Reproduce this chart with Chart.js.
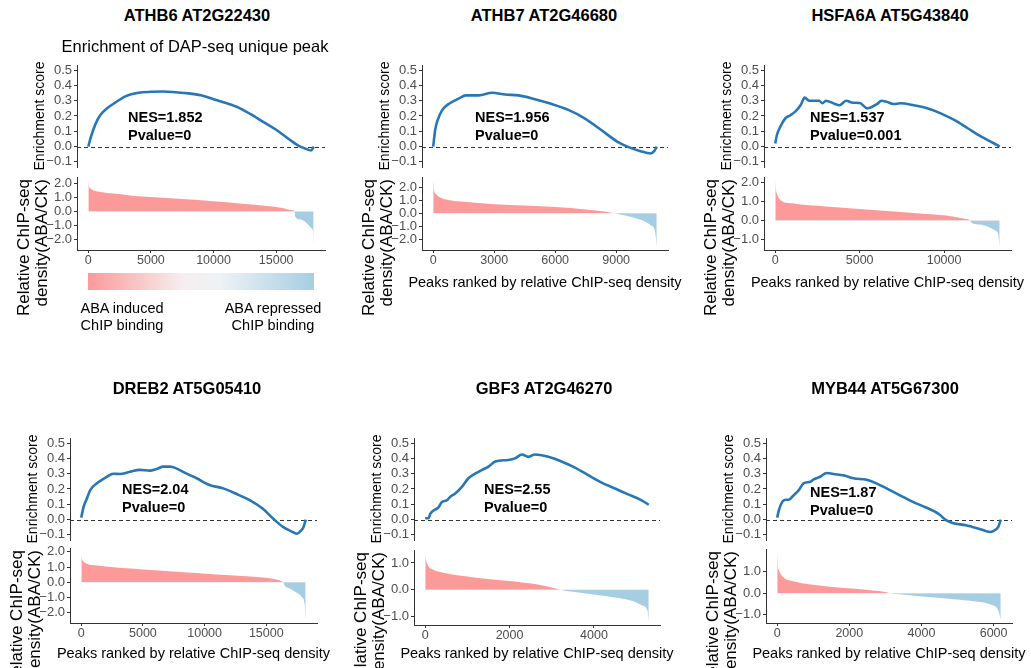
<!DOCTYPE html>
<html>
<head>
<meta charset="utf-8">
<script src="https://cdn.jsdelivr.net/npm/chart.js@4.4.0/dist/chart.umd.min.js"></script>
<style>
  html, body { margin: 0; padding: 0; background: #fff; }
  body { width: 1031px; height: 668px; position: relative; overflow: hidden;
         font-family: "Liberation Sans", Arial, sans-serif; }
  canvas { position: absolute; }
  .txt { position: absolute; white-space: nowrap; color: #000; }
  .rot { position: absolute; white-space: nowrap; color: #000; transform: rotate(-90deg); }
</style>
</head>
<body>
<script>
  // ---- data ----
  const geneNames = ['ATHB6 AT2G22430', 'ATHB7 AT2G46680', 'HSFA6A AT5G43840',
                     'DREB2 AT5G05410', 'GBF3 AT2G46270', 'MYB44 AT5G67300'];
  const nesValues = ['1.852', '1.956', '1.537', '2.04', '2.55', '1.87'];
  const pValues = ['0', '0', '0.001', '0', '0', '0'];

  const esTicks = [-0.1, 0, 0.1, 0.2, 0.3, 0.4, 0.5];
  const xTicks1 = [0, 5000, 10000, 15000];
  const xTicks2 = [0, 3000, 6000, 9000];
  const xTicks3 = [0, 5000, 10000];
  const xTicks4 = [0, 5000, 10000, 15000];
  const xTicks5 = [0, 2000, 4000];
  const xTicks6 = [0, 2000, 4000, 6000];
  const densTicks1 = [-2, -1, 0, 1, 2];
  const densTicks2 = [-2, -1, 0, 1, 2];
  const densTicks3 = [-1, 0, 1, 2];
  const densTicks4 = [-2, -1, 0, 1, 2];
  const densTicks5 = [-1, 0, 1];
  const densTicks6 = [-1, 0, 1];

  // running enrichment score
  const esRank1 = [0, 200, 400, 700, 1000, 1500, 2200, 3000, 4000, 5000, 6000, 7000, 8000, 9000, 10000, 11000, 12000, 13000, 14000, 15000, 16000, 16800, 17300, 17800, 18000];
  const esScore1 = [0, 0.06, 0.11, 0.17, 0.21, 0.25, 0.29, 0.33, 0.352, 0.358, 0.36, 0.355, 0.348, 0.335, 0.31, 0.285, 0.255, 0.21, 0.16, 0.11, 0.05, 0.005, -0.012, -0.025, 0];
  const esRank2 = [0, 100, 210, 450, 780, 1270, 1600, 2250, 2900, 3550, 4200, 5000, 5800, 6650, 7450, 8250, 9050, 9550, 10200, 10700, 10870, 11000];
  const esScore2 = [0, 0.11, 0.17, 0.24, 0.28, 0.315, 0.335, 0.335, 0.352, 0.34, 0.335, 0.31, 0.28, 0.24, 0.185, 0.11, 0.033, 0, -0.03, -0.045, -0.03, 0];
  const esRank3 = [0, 100, 300, 600, 900, 1200, 1500, 1750, 2000, 2600, 2800, 3000, 3500, 3800, 4200, 4600, 5000, 5450, 6000, 6300, 6600, 7000, 7400, 8200, 9000, 9800, 10600, 11400, 12200, 12950, 13300];
  const esScore3 = [0.02, 0.076, 0.13, 0.185, 0.205, 0.23, 0.27, 0.32, 0.3, 0.3, 0.283, 0.3, 0.28, 0.27, 0.3, 0.287, 0.285, 0.25, 0.276, 0.3, 0.293, 0.278, 0.283, 0.27, 0.25, 0.217, 0.174, 0.12, 0.065, 0.022, 0];
  const esRank4 = [0, 190, 460, 730, 1270, 2070, 2600, 3150, 3950, 4750, 5550, 6100, 6650, 7200, 7700, 8550, 9350, 10400, 11500, 12600, 13650, 14700, 15550, 16350, 17150, 17500, 17830, 18020, 18200];
  const esScore4 = [0.013, 0.083, 0.138, 0.193, 0.237, 0.28, 0.3, 0.298, 0.313, 0.325, 0.32, 0.33, 0.346, 0.346, 0.335, 0.3, 0.27, 0.226, 0.204, 0.167, 0.127, 0.072, 0.007, -0.048, -0.081, -0.092, -0.07, -0.048, 0];
  const esRank5 = [0, 80, 120, 200, 315, 395, 510, 590, 710, 870, 1025, 1185, 1340, 1500, 1660, 1970, 2130, 2290, 2445, 2600, 2760, 2920, 3230, 3550, 3865, 4180, 4500, 4810, 5130, 5300];
  const esScore5 = [0.009, 0.009, 0.037, 0.06, 0.08, 0.115, 0.125, 0.148, 0.17, 0.214, 0.27, 0.3, 0.324, 0.346, 0.38, 0.39, 0.4, 0.425, 0.41, 0.425, 0.42, 0.41, 0.38, 0.34, 0.29, 0.242, 0.203, 0.165, 0.126, 0.097];
  const esRank6 = [0, 46, 140, 230, 320, 460, 600, 730, 920, 1010, 1190, 1375, 1560, 1830, 2110, 2480, 2750, 3030, 3390, 3760, 4130, 4490, 4680, 4860, 5230, 5410, 5590, 5910, 6050, 6130, 6200];
  const esScore6 = [0.013, 0.06, 0.116, 0.13, 0.13, 0.16, 0.193, 0.237, 0.248, 0.263, 0.28, 0.305, 0.298, 0.29, 0.27, 0.26, 0.237, 0.204, 0.16, 0.116, 0.079, 0.035, -0.004, -0.022, -0.037, -0.048, -0.059, -0.081, -0.066, -0.048, 0];

  // ranked relative ChIP-seq density (ABA/CK)
  const densRank1 = [0, 60, 200, 500, 1000, 2000, 3500, 5000, 7500, 10000, 12500, 14500, 15500, 16200, 16470, 16500, 17000, 17500, 17800, 17950, 18000];
  const densValue1 = [2.26, 1.85, 1.65, 1.5, 1.42, 1.3, 1.15, 1.05, 0.9, 0.75, 0.55, 0.38, 0.25, 0.1, 0.02, -0.35, -0.6, -0.9, -1.2, -1.5, -2.55];
  const densRank2 = [0, 40, 150, 350, 800, 1500, 3000, 4500, 6000, 7500, 8500, 8900, 9300, 9800, 10300, 10700, 10900, 11000];
  const densValue2 = [2.51, 1.8, 1.45, 1.2, 1.0, 0.88, 0.7, 0.6, 0.48, 0.3, 0.12, 0, -0.12, -0.3, -0.55, -0.9, -1.3, -2.53];
  const densRank3 = [0, 30, 100, 300, 1000, 3000, 5000, 7000, 9000, 10500, 11300, 11550, 11600, 12200, 12700, 13000, 13200, 13300];
  const densValue3 = [2.1, 1.7, 1.4, 1.08, 0.9, 0.73, 0.6, 0.47, 0.34, 0.22, 0.08, 0, -0.1, -0.22, -0.36, -0.5, -0.7, -1.36];
  const densRank4 = [0, 40, 130, 450, 1300, 4000, 6600, 9300, 12000, 14700, 15800, 16300, 16400, 16450, 16900, 17500, 17900, 18100, 18200];
  const densValue4 = [2.03, 1.6, 1.42, 1.22, 1.1, 0.9, 0.75, 0.6, 0.45, 0.3, 0.18, 0.05, 0, -0.15, -0.42, -0.72, -1.0, -1.4, -2.47];
  const densRank5 = [0, 20, 60, 150, 400, 1200, 2000, 2700, 3150, 3200, 3500, 4300, 4900, 5150, 5270, 5300];
  const densValue5 = [1.36, 1.1, 0.92, 0.78, 0.64, 0.45, 0.32, 0.18, 0.02, 0, -0.08, -0.25, -0.42, -0.6, -0.8, -1.2];
  const densRank6 = [0, 15, 50, 140, 450, 1400, 2300, 3000, 3120, 3600, 4600, 5500, 5950, 6120, 6200];
  const densValue6 = [1.88, 1.3, 1.05, 0.78, 0.55, 0.31, 0.18, 0.05, 0, -0.08, -0.23, -0.38, -0.54, -0.75, -1.22];

  const panels = [
    { esX: esRank1, esY: esScore1, dX: densRank1, dY: densValue1, xTicks: xTicks1, dTicks: densTicks1 },
    { esX: esRank2, esY: esScore2, dX: densRank2, dY: densValue2, xTicks: xTicks2, dTicks: densTicks2 },
    { esX: esRank3, esY: esScore3, dX: densRank3, dY: densValue3, xTicks: xTicks3, dTicks: densTicks3 },
    { esX: esRank4, esY: esScore4, dX: densRank4, dY: densValue4, xTicks: xTicks4, dTicks: densTicks4 },
    { esX: esRank5, esY: esScore5, dX: densRank5, dY: densValue5, xTicks: xTicks5, dTicks: densTicks5 },
    { esX: esRank6, esY: esScore6, dX: densRank6, dY: densValue6, xTicks: xTicks6, dTicks: densTicks6 }
  ];

  // ---- page layout (pixels) ----
  const boxes = [
    { ax: 77,  rx: 325,  t1: 65,  b1: 167, t2: 177, b2: 250, tx: 197, ty: 15,  nx: 128, ny: 117 },
    { ax: 422, rx: 668,  t1: 65,  b1: 167, t2: 177, b2: 250, tx: 544, ty: 15,  nx: 475, ny: 117 },
    { ax: 764, rx: 1011, t1: 65,  b1: 167, t2: 177, b2: 250, tx: 890, ty: 15,  nx: 810, ny: 117 },
    { ax: 70,  rx: 317,  t1: 438, b1: 540, t2: 548, b2: 623, tx: 187, ty: 388, nx: 122, ny: 489 },
    { ax: 414, rx: 660,  t1: 438, b1: 540, t2: 550, b2: 625, tx: 544, ty: 388, nx: 484, ny: 489 },
    { ax: 766, rx: 1012, t1: 438, b1: 540, t2: 549, b2: 623, tx: 885, ty: 388, nx: 810, ny: 492 }
  ];

  const ES_BLUE = '#2777b6';
  const PINK = '#fb9a99';
  const LBLUE = '#a6cee3';
  const AXIS = '#333333';
  const TICK = '#4d4d4d';

  Chart.defaults.font.family = '"Liberation Sans", Arial, sans-serif';
  Chart.defaults.animation = false;

  const zeroLine = {
    id: 'zeroLine',
    beforeDatasetsDraw(chart) {
      const { ctx, chartArea, scales } = chart;
      const y = Math.round(scales.y.getPixelForValue(0)) + 0.5;
      ctx.save();
      ctx.strokeStyle = '#333';
      ctx.lineWidth = 1;
      ctx.setLineDash([4, 3]);
      ctx.beginPath();
      ctx.moveTo(chartArea.left, y);
      ctx.lineTo(chartArea.right, y);
      ctx.stroke();
      ctx.restore();
    }
  };

  const fmt1 = (v) => v.toFixed(1).replace('-', '\u2212');

  // text block; first line centred vertically on y
  function addText(html, x, y, css, lh) {
    const d = document.createElement('div');
    d.className = 'txt';
    d.innerHTML = html;
    d.style.left = x + 'px';
    d.style.top = (y - lh / 2) + 'px';
    d.style.lineHeight = lh + 'px';
    Object.assign(d.style, css || {});
    document.body.appendChild(d);
    return d;
  }

  function addCentered(html, cx, cy, css, lh) {
    const d = addText(html, cx - 200, cy, css, lh || 20);
    d.style.width = '400px';
    d.style.textAlign = 'center';
    return d;
  }

  // rotated text, w = box length, align: 'center' or 'right' (right => top end)
  function addRotated(text, cx, cy, w, align, css) {
    const d = document.createElement('div');
    d.className = 'rot';
    d.textContent = text;
    d.style.width = w + 'px';
    d.style.height = '20px';
    d.style.lineHeight = '20px';
    d.style.left = (cx - w / 2) + 'px';
    d.style.top = (cy - 10) + 'px';
    d.style.textAlign = align;
    Object.assign(d.style, css || {});
    document.body.appendChild(d);
  }

  function makeCanvas(left, top, w, h) {
    const c = document.createElement('canvas');
    c.width = w; c.height = h;
    c.style.left = left + 'px'; c.style.top = top + 'px';
    c.style.width = w + 'px'; c.style.height = h + 'px';
    document.body.appendChild(c);
    return c;
  }

  const padT = 10, axW = 60, padR = 10, xAxH = 20;

  function yAxis(min, max, ticks) {
    return {
      type: 'linear', min, max,
      afterFit: (s) => { s.width = axW; },
      afterBuildTicks: (s) => { s.ticks = ticks.map((v) => ({ value: v })); },
      ticks: { color: TICK, font: { size: 13 }, padding: 2, autoSkip: false, callback: (v) => fmt1(v) },
      grid: { drawOnChartArea: false, tickLength: 3, color: AXIS, tickColor: AXIS },
      border: { display: true, color: AXIS, width: 1 }
    };
  }

  panels.forEach((p, i) => {
    const b = boxes[i];
    const n = p.esX[p.esX.length - 1];
    const w = b.rx - b.ax + axW + padR;

    // enrichment score curve
    const c1 = makeCanvas(b.ax - axW, b.t1 - padT, w, b.b1 - b.t1 + 2 * padT);
    new Chart(c1, {
      type: 'line',
      data: {
        datasets: [{
          data: p.esX.map((x, k) => ({ x, y: p.esY[k] })),
          borderColor: ES_BLUE, borderWidth: 2.6, pointRadius: 0,
          cubicInterpolationMode: 'monotone', fill: false
        }]
      },
      options: {
        responsive: false, events: [],
        layout: { padding: { left: 0, top: padT, right: padR, bottom: padT } },
        plugins: { legend: { display: false }, tooltip: { enabled: false } },
        scales: {
          x: { type: 'linear', display: false, min: -0.05 * n, max: 1.05 * n },
          y: yAxis(-0.1333, 0.5333, esTicks)
        }
      },
      plugins: [zeroLine]
    });

    // ranked density area
    const lo = Math.min(...p.dY), hi = Math.max(...p.dY), r = hi - lo;
    const c2 = makeCanvas(b.ax - axW, b.t2 - padT, w, b.b2 - b.t2 + padT + xAxH + 2);
    new Chart(c2, {
      type: 'line',
      data: {
        datasets: [{
          data: p.dX.map((x, k) => ({ x, y: p.dY[k] })),
          borderColor: 'rgba(0,0,0,0)', borderWidth: 1, pointRadius: 0,
          cubicInterpolationMode: 'monotone',
          fill: { target: 'origin', above: PINK, below: LBLUE }
        }]
      },
      options: {
        responsive: false, events: [],
        layout: { padding: { left: 0, top: padT, right: padR, bottom: 2 } },
        plugins: { legend: { display: false }, tooltip: { enabled: false } },
        scales: {
          x: {
            type: 'linear', min: -0.05 * n, max: 1.05 * n,
            afterFit: (s) => { s.height = xAxH; },
            afterBuildTicks: (s) => { s.ticks = p.xTicks.map((v) => ({ value: v })); },
            ticks: { color: TICK, font: { size: 12.5 }, padding: 0, maxRotation: 0, autoSkip: false,
                     callback: (v) => String(v) },
            grid: { drawOnChartArea: false, tickLength: 3, color: AXIS, tickColor: AXIS },
            border: { display: true, color: AXIS, width: 1 }
          },
          y: yAxis(lo - 0.05 * r, hi + 0.05 * r, p.dTicks)
        }
      }
    });

    // texts
    addCentered(geneNames[i], b.tx, b.ty, { fontWeight: 'bold', fontSize: '16.5px' });
    addText('NES=' + nesValues[i] + '<br>Pvalue=' + pValues[i], b.nx, b.ny,
      { fontWeight: 'bold', fontSize: '14.5px' }, 18.5);
    addRotated('Enrichment score', b.ax - 38, (b.t1 + b.b1) / 2, 160, 'center', { fontSize: '14px' });
    addRotated('Relative ChIP-seq', b.ax - 53, b.t2 + 2 + 110, 220, 'right', { fontSize: '17px' });
    addRotated('density(ABA/CK)', b.ax - 35, b.t2 + 2 + 110, 220, 'right', { fontSize: '17px' });

    if (i === 0) {
      const x0 = b.ax + (0.05 / 1.1) * (b.rx - b.ax);
      const x1 = b.ax + (1.05 / 1.1) * (b.rx - b.ax);
      const bar = document.createElement('div');
      Object.assign(bar.style, {
        position: 'absolute', left: x0 + 'px', top: '273px', width: (x1 - x0) + 'px', height: '17px',
        background: 'linear-gradient(to right, ' + PINK + ' 0%, #f6eeee 42%, #eef3f6 58%, ' + LBLUE + ' 100%)'
      });
      document.body.appendChild(bar);
      addCentered('Enrichment of DAP-seq unique peak', 195, 46, { fontSize: '16.5px' });
      addCentered('ABA induced<br>ChIP binding', 122, 308, { fontSize: '14.5px' }, 17);
      addCentered('ABA repressed<br>ChIP binding', 273, 308, { fontSize: '14.5px' }, 17);
    } else {
      addCentered('Peaks ranked by relative ChIP-seq density', (b.ax + b.rx) / 2, i < 3 ? 282 : 653,
        { fontSize: '14.5px' });
    }
  });
</script>
</body>
</html>
